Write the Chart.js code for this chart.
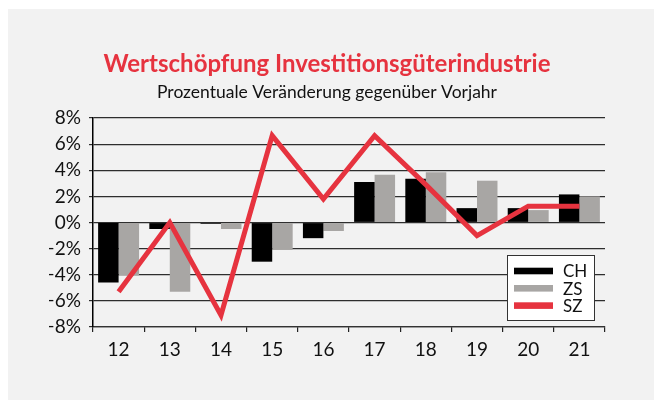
<!DOCTYPE html>
<html>
<head>
<meta charset="utf-8">
<script src="https://cdn.jsdelivr.net/npm/chart.js@4/dist/chart.umd.min.js"></script>
<style>
  html, body { margin: 0; padding: 0; background: #ffffff; }
  #wrap { width: 654px; height: 400px; }
</style>
</head>
<body>
<div id="wrap"><canvas id="c" width="654" height="400"></canvas></div>
<script>
const categories = ['12', '13', '14', '15', '16', '17', '18', '19', '20', '21'];
const seriesCH = [-4.6, -0.5, -0.1, -3.0, -1.2, 3.1, 3.35, 1.1, 1.1, 2.15];
const seriesZS = [-4.05, -5.3, -0.5, -2.1, -0.65, 3.65, 3.85, 3.2, 0.95, 2.0];
const seriesSZ = [-5.3, 0.0, -7.1, 6.65, 1.8, 6.65, 2.9, -1.0, 1.25, 1.25];
const yTickValues = [-8, -6, -4, -2, 0, 2, 4, 6, 8];
const yTickLabels = ['−8%', '−6%', '−4%', '−2%', '0%', '2%', '4%', '6%', '8%'];
const titleText = 'Wertschöpfung Investitionsgüterindustrie';
const subtitleText = 'Prozentuale Veränderung gegenüber Vorjahr';

const FONT = 'Lato, "DejaVu Sans", sans-serif';
const RED = '#e6333f';
const GREY = '#a8a6a4';

const bgPlugin = {
  id: 'bg',
  beforeDraw(chart) {
    const ctx = chart.ctx;
    ctx.save();
    ctx.fillStyle = '#ffffff';
    ctx.fillRect(0, 0, chart.width, chart.height);
    ctx.fillStyle = '#f2f2f2';
    ctx.fillRect(8, 9, chart.width - 8, chart.height - 9);
    ctx.restore();
  }
};

const legendPlugin = {
  id: 'boxLegend',
  afterDatasetsDraw(chart) {
    const ctx = chart.ctx;
    const area = chart.chartArea;
    const bx = area.right - 98, by = area.bottom - 72, bw = 88, bh = 66;
    ctx.save();
    ctx.fillStyle = '#ffffff';
    ctx.fillRect(bx, by, bw, bh);
    ctx.strokeStyle = '#333333';
    ctx.lineWidth = 1;
    ctx.strokeRect(bx + 0.5, by + 0.5, bw - 1, bh - 1);
    const items = [0, 1, 2].map(i => chart.data.datasets.find(d => d.legendIndex === i));
    ctx.font = '17px ' + FONT;
    ctx.textBaseline = 'middle';
    ctx.textAlign = 'left';
    items.forEach((ds, i) => {
      const cy = by + 16 + i * 17.3;
      ctx.fillStyle = ds.type === 'line' ? ds.borderColor : ds.backgroundColor;
      ctx.fillRect(bx + 7, cy - 3.3, 39, 6.6);
      ctx.fillStyle = '#111111';
      ctx.fillText(ds.label, bx + 56, cy + 1);
    });
    ctx.restore();
  }
};

new Chart(document.getElementById('c'), {
  type: 'bar',
  data: {
    labels: categories,
    datasets: [
      {
        type: 'line', label: 'SZ', data: seriesSZ, legendIndex: 2,
        borderColor: RED, backgroundColor: RED, borderWidth: 5,
        pointRadius: 0, tension: 0, borderJoinStyle: 'miter', borderCapStyle: 'butt',
        order: 0
      },
      {
        label: 'CH', data: seriesCH, legendIndex: 0,
        backgroundColor: '#000000', borderWidth: 0, order: 1
      },
      {
        label: 'ZS', data: seriesZS, legendIndex: 1,
        backgroundColor: GREY, borderWidth: 0, order: 2
      }
    ]
  },
  options: {
    responsive: false,
    animation: false,
    devicePixelRatio: 1,
    layout: { padding: { left: 49, right: 49, top: 0, bottom: 0 } },
    datasets: { bar: { categoryPercentage: 0.8, barPercentage: 1.0 } },
    plugins: {
      legend: { display: false },
      tooltip: { enabled: false },
      title: {
        display: true, text: titleText, color: RED,
        font: { family: FONT, size: 24, weight: 'bold', lineHeight: 1.2 },
        padding: { top: 49.6, bottom: 2 }
      },
      subtitle: {
        display: true, text: subtitleText, color: '#111111',
        font: { family: FONT, size: 17.5, lineHeight: 1.2 },
        padding: { top: 1.6, bottom: 15 }
      }
    },
    scales: {
      x: {
        grid: { display: true, drawOnChartArea: false, drawTicks: true, tickLength: 5, color: '#222222', lineWidth: 1.2, offset: true },
        border: { display: true, color: '#333333', width: 1.2 },
        ticks: { color: '#111111', font: { family: FONT, size: 19 }, padding: 6, maxRotation: 0 },
        afterFit(scale) { scale.height = 73; }
      },
      y: {
        min: -8, max: 8,
        afterBuildTicks(scale) { scale.ticks = yTickValues.map(v => ({ value: v })); },
        grid: { color: '#2e2e2e', lineWidth: 1.2, tickLength: 4, drawTicks: true },
        border: { display: true, color: '#000000', width: 1.5 },
        ticks: {
          color: '#111111', font: { family: FONT, size: 19 }, padding: 8,
          callback: (v) => yTickLabels[yTickValues.indexOf(v)]
        },
        afterFit(scale) { scale.width = 44; }
      }
    }
  },
  plugins: [bgPlugin, legendPlugin]
});
</script>
</body>
</html>
